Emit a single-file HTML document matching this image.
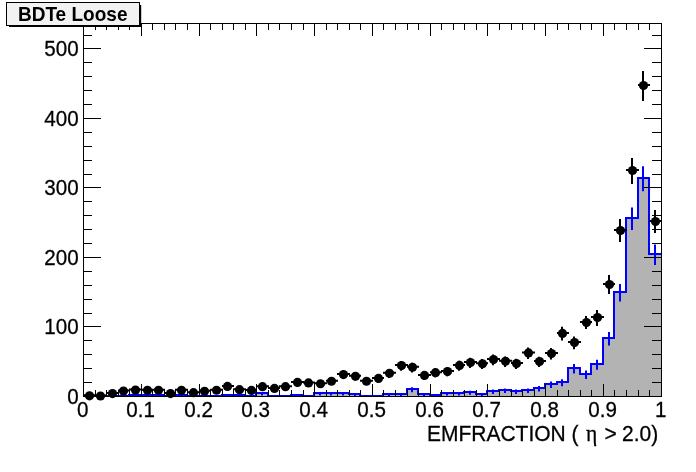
<!DOCTYPE html>
<html><head><meta charset="utf-8"><title>BDTe Loose</title>
<style>
html,body{margin:0;padding:0;background:#fff;overflow:hidden}
body{width:696px;height:472px}
svg{display:block}
.lb text{font-family:"Liberation Sans",sans-serif;font-size:22.5px;fill:#000;stroke:#000;stroke-width:0.3px}
.lb .sym{font-family:"Liberation Serif","DejaVu Serif",serif;font-size:23px}
text.ttl{font-family:"Liberation Sans",sans-serif;font-weight:bold;font-size:20.4px;fill:#000}
</style>
</head><body>
<svg width="696" height="472" viewBox="0 0 696 472">
<rect width="696" height="472" fill="#fff"/>
<defs><clipPath id="fr"><rect x="83" y="23" width="579" height="374"/></clipPath></defs>
<g clip-path="url(#fr)">
<path d="M83,396.5 L83,396 L95,396 L95,396 L106,396 L106,396 L118,396 L118,396 L129,396 L129,395 L141,395 L141,395 L152,395 L152,395 L164,395 L164,396 L175,396 L175,395 L187,395 L187,396 L199,396 L199,396 L210,396 L210,396 L222,396 L222,395 L233,395 L233,395 L245,395 L245,396 L256,396 L256,393 L268,393 L268,396 L279,396 L279,396 L291,396 L291,395 L303,395 L303,396 L314,396 L314,393 L326,393 L326,393 L337,393 L337,393 L349,393 L349,394 L360,394 L360,396 L372,396 L372,396 L383,396 L383,394 L395,394 L395,394 L407,394 L407,389 L418,389 L418,394 L430,394 L430,395 L441,395 L441,393 L453,393 L453,393 L464,393 L464,392 L476,392 L476,394 L487,394 L487,391 L499,391 L499,390 L511,390 L511,391 L522,391 L522,390 L534,390 L534,388 L545,388 L545,384 L557,384 L557,382 L568,382 L568,368 L580,368 L580,374 L591,374 L591,364 L603,364 L603,338 L614,338 L614,292 L626,292 L626,218 L638,218 L638,178 L649,178 L649,254 L661,254 L661,396.5 Z" fill="#b3b3b3"/>
<path d="M83,396 L95,396 L95,396 L106,396 L106,396 L118,396 L118,396 L129,396 L129,395 L141,395 L141,395 L152,395 L152,395 L164,395 L164,396 L175,396 L175,395 L187,395 L187,396 L199,396 L199,396 L210,396 L210,396 L222,396 L222,395 L233,395 L233,395 L245,395 L245,396 L256,396 L256,393 L268,393 L268,396 L279,396 L279,396 L291,396 L291,395 L303,395 L303,396 L314,396 L314,393 L326,393 L326,393 L337,393 L337,393 L349,393 L349,394 L360,394 L360,396 L372,396 L372,396 L383,396 L383,394 L395,394 L395,394 L407,394 L407,389 L418,389 L418,394 L430,394 L430,395 L441,395 L441,393 L453,393 L453,393 L464,393 L464,392 L476,392 L476,394 L487,394 L487,391 L499,391 L499,390 L511,390 L511,391 L522,391 L522,390 L534,390 L534,388 L545,388 L545,384 L557,384 L557,382 L568,382 L568,368 L580,368 L580,374 L591,374 L591,364 L603,364 L603,338 L614,338 L614,292 L626,292 L626,218 L638,218 L638,178 L649,178 L649,254 L661,254" fill="none" stroke="#0000ff" stroke-width="2" stroke-linejoin="miter"/>
<path d="M135,394.5V396.5M147,394.5V396.5M158,394.5V396.5M181,394.5V396.5M227,394.5V396.5M239,394.5V396.5M262,391.9V395.6M297,394.5V396.5M320,391.9V395.6M331,391.9V395.6M343,391.9V395.6M355,393.2V396.3M389,393.2V396.3M401,393.2V396.3M412,387.2V392.3M424,393.2V396.3M435,394.5V396.5M447,391.9V395.6M459,391.9V395.6M470,390.7V394.8M482,393.2V396.3M493,389.5V394.0M505,388.4V393.1M516,389.5V394.0M528,388.4V393.1M539,386.1V391.4M551,381.6V387.9M562,379.3V386.2M574,364.1V373.4M586,370.5V379.0M597,359.7V369.8M609,332.1V345.4M620,284.0V301.5M632,207.4V230.1M643,166.2V191.3M655,244.5V265.0" stroke="#0000ff" stroke-width="2" fill="none"/>
</g>
<path d="M89,395.1V397.1M83,395.30H96M100,395.4V397.2M95,395.50H107M112,392.2V395.6M106,393.10H119M123,389.0V393.6M118,390.50H130M135,388.0V392.8M129,389.60H142M147,388.2V393.0M141,389.80H153M158,388.2V393.0M152,389.80H165M170,392.2V395.6M164,393.10H176M181,388.2V393.0M175,389.80H188M193,391.1V394.9M187,392.20H200M204,389.3V393.8M199,390.75H211M216,388.2V392.9M210,389.75H223M227,383.8V389.7M222,385.95H234M239,387.5V392.4M233,389.15H246M251,388.4V393.1M245,389.95H257M262,384.0V389.9M256,386.15H269M274,386.1V391.4M268,387.95H280M285,384.0V389.9M279,386.15H292M297,379.3V386.2M291,381.95H304M308,379.9V386.6M303,382.45H315M320,380.8V387.3M314,383.25H327M331,378.0V385.1M326,380.75H338M343,370.6V379.1M337,374.05H350M355,372.5V380.6M349,375.75H361M366,378.0V385.1M360,380.75H373M378,374.9V382.6M372,377.95H384M389,369.3V378.0M383,372.85H396M401,360.9V370.8M395,365.05H408M412,362.7V372.4M407,366.75H419M424,371.6V379.9M418,374.95H431M435,368.6V377.3M430,372.15H442M447,367.4V376.3M441,371.05H454M459,360.8V370.7M453,364.95H465M470,357.7V368.0M464,362.05H477M482,359.0V369.1M476,363.25H488M493,354.5V365.2M487,359.05H500M505,356.4V366.9M499,360.85H512M516,358.8V368.9M511,363.05H523M528,347.4V359.0M522,352.40H535M539,356.7V367.1M534,361.10H546M551,348.0V359.6M545,353.00H558M562,326.8V340.6M557,332.90H569M574,336.5V349.3M568,342.10H581M586,316.0V329.0M580,322.00H592M597,310.0V326.0M591,317.00H604M609,275.0V294.0M603,284.00H615M620,219.0V242.0M614,230.00H627M632,158.0V184.0M626,170.00H639M643,71.0V101.0M638,85.00H650M655,210.0V233.0M649,221.00H662" stroke="#000" stroke-width="2" fill="none"/>
<g fill="#000"><circle cx="89.5" cy="395.80" r="4.6"/><circle cx="100.5" cy="396.00" r="4.6"/><circle cx="112.5" cy="393.60" r="4.6"/><circle cx="123.5" cy="391.00" r="4.6"/><circle cx="135.5" cy="390.10" r="4.6"/><circle cx="147.5" cy="390.30" r="4.6"/><circle cx="158.5" cy="390.30" r="4.6"/><circle cx="170.5" cy="393.60" r="4.6"/><circle cx="181.5" cy="390.30" r="4.6"/><circle cx="193.5" cy="392.70" r="4.6"/><circle cx="204.5" cy="391.25" r="4.6"/><circle cx="216.5" cy="390.25" r="4.6"/><circle cx="227.5" cy="386.45" r="4.6"/><circle cx="239.5" cy="389.65" r="4.6"/><circle cx="251.5" cy="390.45" r="4.6"/><circle cx="262.5" cy="386.65" r="4.6"/><circle cx="274.5" cy="388.45" r="4.6"/><circle cx="285.5" cy="386.65" r="4.6"/><circle cx="297.5" cy="382.45" r="4.6"/><circle cx="308.5" cy="382.95" r="4.6"/><circle cx="320.5" cy="383.75" r="4.6"/><circle cx="331.5" cy="381.25" r="4.6"/><circle cx="343.5" cy="374.55" r="4.6"/><circle cx="355.5" cy="376.25" r="4.6"/><circle cx="366.5" cy="381.25" r="4.6"/><circle cx="378.5" cy="378.45" r="4.6"/><circle cx="389.5" cy="373.35" r="4.6"/><circle cx="401.5" cy="365.55" r="4.6"/><circle cx="412.5" cy="367.25" r="4.6"/><circle cx="424.5" cy="375.45" r="4.6"/><circle cx="435.5" cy="372.65" r="4.6"/><circle cx="447.5" cy="371.55" r="4.6"/><circle cx="459.5" cy="365.45" r="4.6"/><circle cx="470.5" cy="362.55" r="4.6"/><circle cx="482.5" cy="363.75" r="4.6"/><circle cx="493.5" cy="359.55" r="4.6"/><circle cx="505.5" cy="361.35" r="4.6"/><circle cx="516.5" cy="363.55" r="4.6"/><circle cx="528.5" cy="352.90" r="4.6"/><circle cx="539.5" cy="361.60" r="4.6"/><circle cx="551.5" cy="353.50" r="4.6"/><circle cx="562.5" cy="333.40" r="4.6"/><circle cx="574.5" cy="342.60" r="4.6"/><circle cx="586.5" cy="322.50" r="4.6"/><circle cx="597.5" cy="317.50" r="4.6"/><circle cx="609.5" cy="284.50" r="4.6"/><circle cx="620.5" cy="230.50" r="4.6"/><circle cx="632.5" cy="170.50" r="4.6"/><circle cx="643.5" cy="85.50" r="4.6"/><circle cx="655.5" cy="221.50" r="4.6"/></g>
<path d="M83.5,23.5H661.5V396.5H83.5ZM83.5,397.0v-13M83.5,23.0v13M95.5,397.0v-7M95.5,23.0v7M106.5,397.0v-7M106.5,23.0v7M118.5,397.0v-7M118.5,23.0v7M129.5,397.0v-7M129.5,23.0v7M141.5,397.0v-13M141.5,23.0v13M152.5,397.0v-7M152.5,23.0v7M164.5,397.0v-7M164.5,23.0v7M175.5,397.0v-7M175.5,23.0v7M187.5,397.0v-7M187.5,23.0v7M199.5,397.0v-13M199.5,23.0v13M210.5,397.0v-7M210.5,23.0v7M222.5,397.0v-7M222.5,23.0v7M233.5,397.0v-7M233.5,23.0v7M245.5,397.0v-7M245.5,23.0v7M256.5,397.0v-13M256.5,23.0v13M268.5,397.0v-7M268.5,23.0v7M279.5,397.0v-7M279.5,23.0v7M291.5,397.0v-7M291.5,23.0v7M303.5,397.0v-7M303.5,23.0v7M314.5,397.0v-13M314.5,23.0v13M326.5,397.0v-7M326.5,23.0v7M337.5,397.0v-7M337.5,23.0v7M349.5,397.0v-7M349.5,23.0v7M360.5,397.0v-7M360.5,23.0v7M372.5,397.0v-13M372.5,23.0v13M383.5,397.0v-7M383.5,23.0v7M395.5,397.0v-7M395.5,23.0v7M407.5,397.0v-7M407.5,23.0v7M418.5,397.0v-7M418.5,23.0v7M430.5,397.0v-13M430.5,23.0v13M441.5,397.0v-7M441.5,23.0v7M453.5,397.0v-7M453.5,23.0v7M464.5,397.0v-7M464.5,23.0v7M476.5,397.0v-7M476.5,23.0v7M487.5,397.0v-13M487.5,23.0v13M499.5,397.0v-7M499.5,23.0v7M511.5,397.0v-7M511.5,23.0v7M522.5,397.0v-7M522.5,23.0v7M534.5,397.0v-7M534.5,23.0v7M545.5,397.0v-13M545.5,23.0v13M557.5,397.0v-7M557.5,23.0v7M568.5,397.0v-7M568.5,23.0v7M580.5,397.0v-7M580.5,23.0v7M591.5,397.0v-7M591.5,23.0v7M603.5,397.0v-13M603.5,23.0v13M614.5,397.0v-7M614.5,23.0v7M626.5,397.0v-7M626.5,23.0v7M638.5,397.0v-7M638.5,23.0v7M649.5,397.0v-7M649.5,23.0v7M661.5,397.0v-13M661.5,23.0v13M83.0,396.5h18M662.0,396.5h-18M83.0,382.5h9M662.0,382.5h-10M83.0,368.5h9M662.0,368.5h-10M83.0,354.5h9M662.0,354.5h-10M83.0,340.5h9M662.0,340.5h-10M83.0,326.5h18M662.0,326.5h-18M83.0,313.5h9M662.0,313.5h-10M83.0,299.5h9M662.0,299.5h-10M83.0,285.5h9M662.0,285.5h-10M83.0,271.5h9M662.0,271.5h-10M83.0,257.5h18M662.0,257.5h-18M83.0,243.5h9M662.0,243.5h-10M83.0,229.5h9M662.0,229.5h-10M83.0,215.5h9M662.0,215.5h-10M83.0,201.5h9M662.0,201.5h-10M83.0,187.5h18M662.0,187.5h-18M83.0,174.5h9M662.0,174.5h-10M83.0,160.5h9M662.0,160.5h-10M83.0,146.5h9M662.0,146.5h-10M83.0,132.5h9M662.0,132.5h-10M83.0,118.5h18M662.0,118.5h-18M83.0,104.5h9M662.0,104.5h-10M83.0,90.5h9M662.0,90.5h-10M83.0,76.5h9M662.0,76.5h-10M83.0,62.5h9M662.0,62.5h-10M83.0,48.5h18M662.0,48.5h-18M83.0,35.5h9M662.0,35.5h-10" stroke="#000" stroke-width="1" fill="none"/>
<g class="lb">
<text text-anchor="end" transform="translate(78.6 404.0) scale(0.915 1)">0</text>
<text text-anchor="end" transform="translate(78.6 334.0) scale(0.915 1)">100</text>
<text text-anchor="end" transform="translate(78.6 265.0) scale(0.915 1)">200</text>
<text text-anchor="end" transform="translate(78.6 195.0) scale(0.915 1)">300</text>
<text text-anchor="end" transform="translate(78.6 126.0) scale(0.915 1)">400</text>
<text text-anchor="end" transform="translate(78.6 56.0) scale(0.915 1)">500</text>
<text text-anchor="middle" transform="translate(82.6 417.0) scale(0.915 1)">0</text>
<text text-anchor="middle" transform="translate(140.6 417.0) scale(0.915 1)">0.1</text>
<text text-anchor="middle" transform="translate(198.6 417.0) scale(0.915 1)">0.2</text>
<text text-anchor="middle" transform="translate(255.6 417.0) scale(0.915 1)">0.3</text>
<text text-anchor="middle" transform="translate(313.6 417.0) scale(0.915 1)">0.4</text>
<text text-anchor="middle" transform="translate(371.6 417.0) scale(0.915 1)">0.5</text>
<text text-anchor="middle" transform="translate(429.6 417.0) scale(0.915 1)">0.6</text>
<text text-anchor="middle" transform="translate(486.6 417.0) scale(0.915 1)">0.7</text>
<text text-anchor="middle" transform="translate(544.6 417.0) scale(0.915 1)">0.8</text>
<text text-anchor="middle" transform="translate(602.6 417.0) scale(0.915 1)">0.9</text>
<text text-anchor="middle" transform="translate(660.6 417.0) scale(0.915 1)">1</text>
<text transform="translate(427 440.7) scale(0.933 1)">EMFRACTION ( <tspan class="sym" x="170.4">η </tspan><tspan x="190.2">&gt; </tspan><tspan x="209.0">2.0)</tspan></text>
</g>
<path d="M9,26 V27 H141.2 V5 H140 V26 Z" fill="#000"/>
<rect x="6.5" y="2.5" width="133" height="23" fill="#f2f2f2" stroke="#000" stroke-width="1"/>
<text class="ttl" text-anchor="middle" transform="translate(72.7 21.0) scale(0.933 1)">BDTe Loose</text>
</svg>
</body></html>
